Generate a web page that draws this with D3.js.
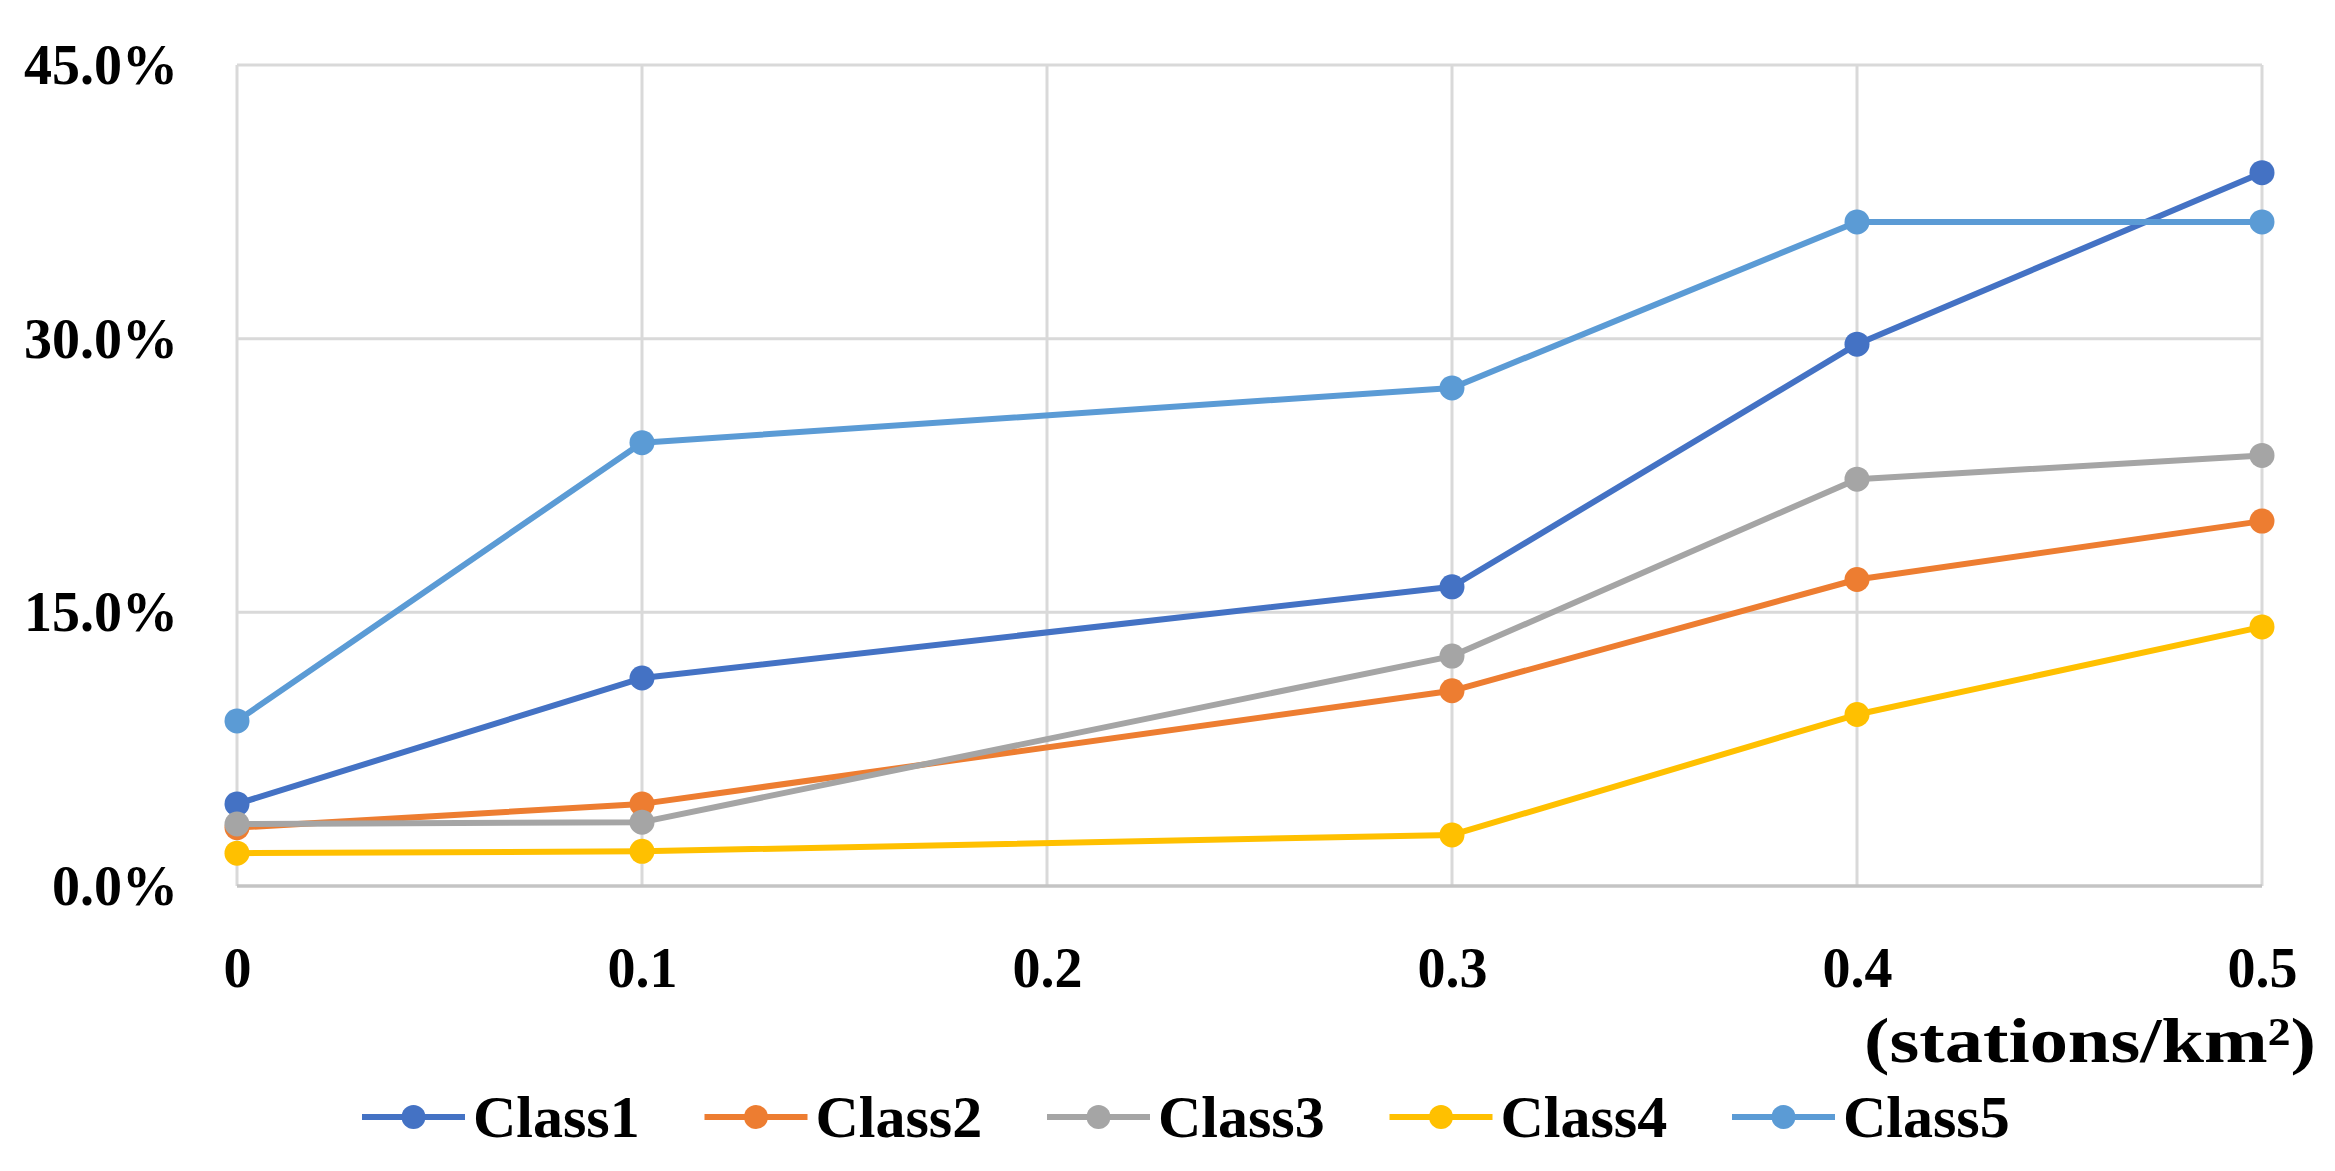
<!DOCTYPE html>
<html>
<head>
<meta charset="utf-8">
<script src="https://cdn.jsdelivr.net/npm/d3@7"></script>
<style>
  html, body { margin: 0; padding: 0; background: #ffffff; }
  svg { display: block; }
  text { font-family: "Liberation Serif", "DejaVu Serif", serif; font-weight: bold; fill: #000; }
</style>
</head>
<body>
<script>
// ---- data ----
const xValues = [0, 0.1, 0.3, 0.4, 0.5];
const xTickValues = [0, 0.1, 0.2, 0.3, 0.4, 0.5];
const xTickLabels = ["0", "0.1", "0.2", "0.3", "0.4", "0.5"];
const yTickValues = [0, 15, 30, 45];
const seriesNames = ["Class1", "Class2", "Class3", "Class4", "Class5"];
const class1 = [4.5, 11.4, 16.4, 29.7, 39.1];
const class2 = [3.2, 4.5, 10.7, 16.8, 20.0];
const class3 = [3.4, 3.5, 12.6, 22.3, 23.6];
const class4 = [1.8, 1.9, 2.8, 9.4, 14.2];
const class5 = [9.05, 24.3, 27.3, 36.4, 36.4];
const seriesValues = [class1, class2, class3, class4, class5];
const seriesColors = ["#4472C4", "#ED7D31", "#A5A5A5", "#FFC000", "#5B9BD5"];
const xAxisTitle = "(stations/km²)";

// ---- layout ----
const W = 2335, H = 1171;
const plot = { left: 237, right: 2262, top: 65, bottom: 886 };

const svg = d3.select("body").append("svg").attr("width", W).attr("height", H);

const x = d3.scaleLinear().domain([0, 0.5]).range([plot.left, plot.right]);
const y = d3.scaleLinear().domain([0, 45]).range([plot.bottom, plot.top]);

// gridlines
const grid = svg.append("g");
grid.selectAll("line.h").data(yTickValues.filter(v => v !== 0)).enter().append("line")
  .attr("x1", plot.left).attr("x2", plot.right)
  .attr("y1", d => y(d)).attr("y2", d => y(d))
  .attr("stroke", "#d9d9d9").attr("stroke-width", 3);
grid.selectAll("line.v").data(xTickValues).enter().append("line")
  .attr("x1", d => x(d)).attr("x2", d => x(d))
  .attr("y1", plot.top).attr("y2", plot.bottom)
  .attr("stroke", "#d9d9d9").attr("stroke-width", 3);
// bottom axis line
grid.append("line")
  .attr("x1", plot.left).attr("x2", plot.right)
  .attr("y1", y(0)).attr("y2", y(0))
  .attr("stroke", "#c4c4c4").attr("stroke-width", 3.5);

// y axis labels
const yAxis = d3.axisLeft(y).tickValues(yTickValues).tickSize(0).tickPadding(0)
  .tickFormat(d => d3.format(".1f")(d) + "%");
const yg = svg.append("g").attr("transform", `translate(178,0)`).call(yAxis);
yg.select(".domain").remove();
yg.selectAll("text").attr("font-size", 56).attr("dy", "0.33em").attr("x", 0)
  .style("font-family", '"Liberation Serif", serif').style("font-weight", "bold").attr("fill", "#000");

// x axis labels
const xAxis = d3.axisBottom(x).tickValues(xTickValues).tickSize(0).tickPadding(0)
  .tickFormat((d, i) => xTickLabels[i]);
const xg = svg.append("g").attr("transform", `translate(0,0)`).call(xAxis);
xg.select(".domain").remove();
xg.selectAll("text").attr("font-size", 56).attr("y", 987).attr("dy", 0)
  .style("font-family", '"Liberation Serif", serif').style("font-weight", "bold").attr("fill", "#000");

// x axis title
svg.append("text")
  .attr("x", 2316).attr("y", 1062)
  .attr("text-anchor", "end")
  .attr("font-size", 64)
  .attr("textLength", 452).attr("lengthAdjust", "spacingAndGlyphs")
  .text(xAxisTitle);

// series
const line = d3.line().x((d, i) => x(xValues[i])).y(d => y(d));
seriesValues.forEach((vals, si) => {
  const g = svg.append("g");
  g.append("path").datum(vals)
    .attr("d", line)
    .attr("fill", "none")
    .attr("stroke", seriesColors[si])
    .attr("stroke-width", 6)
    .attr("stroke-linejoin", "round")
    .attr("stroke-linecap", "round");
  g.selectAll("circle").data(vals).enter().append("circle")
    .attr("cx", (d, i) => x(xValues[i]))
    .attr("cy", d => y(d))
    .attr("r", 12.5)
    .attr("fill", seriesColors[si]);
});

// legend
const legend = svg.append("g");
const legX0 = 362, legStep = 342.5, legY = 1117;
seriesNames.forEach((name, i) => {
  const lx = legX0 + i * legStep;
  const lg = legend.append("g").attr("transform", `translate(${lx},${legY})`);
  lg.append("line").attr("x1", 0).attr("x2", 103).attr("y1", 0).attr("y2", 0)
    .attr("stroke", seriesColors[i]).attr("stroke-width", 6);
  lg.append("circle").attr("cx", 51.5).attr("cy", 0).attr("r", 12).attr("fill", seriesColors[i]);
  lg.append("text").attr("x", 111).attr("y", 20).attr("font-size", 60).text(name);
});
</script>
</body>
</html>
